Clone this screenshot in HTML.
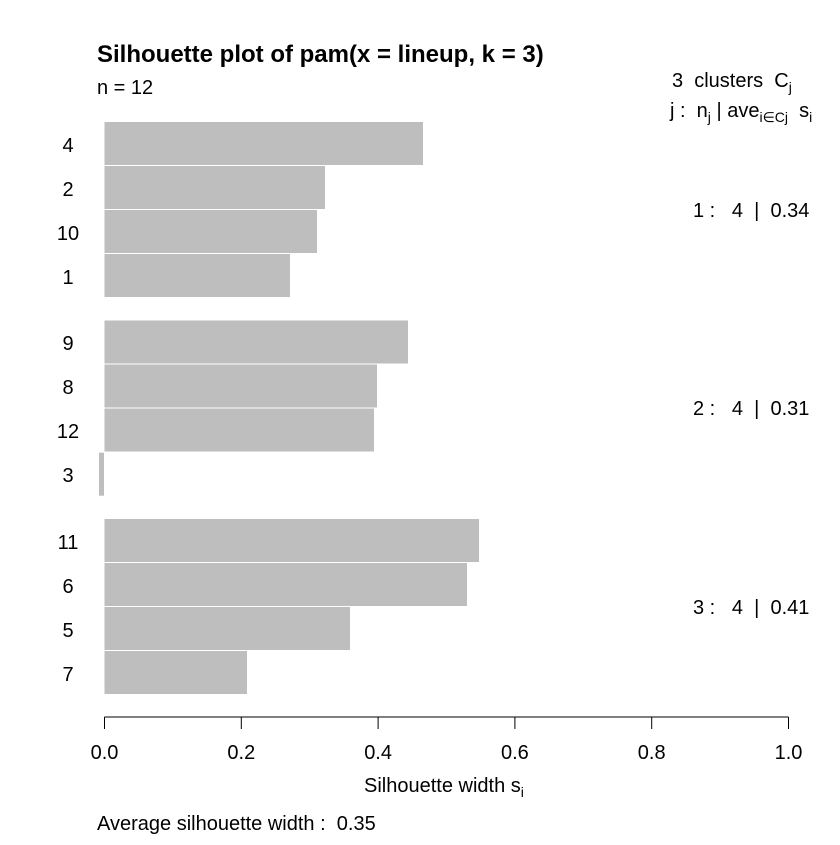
<!DOCTYPE html>
<html><head><style>body{margin:0;background:#fff} text{white-space:pre}</style></head><body>
<svg width="840" height="840" xmlns="http://www.w3.org/2000/svg" font-family="Liberation Sans, Arial, sans-serif" font-size="20" xml:space="preserve">
<rect width="840" height="840" fill="#fff"/>
<text x="97" y="62" font-weight="bold" font-size="24">Silhouette plot of pam(x = lineup, k = 3)</text>
<text x="97" y="94">n = 12</text>
<text x="672" y="87">3  clusters  C<tspan font-size="14" dy="5">j</tspan></text>
<text x="670" y="117">j :  n<tspan font-size="14" dy="5">j</tspan><tspan dy="-5"> | ave</tspan><tspan font-size="14" dy="5">i∈Cj</tspan><tspan dy="-5">  s</tspan><tspan font-size="14" dy="5">i</tspan></text>
<g fill="#bebebe">
<rect x="104.5" y="122" width="318.5" height="43"/>
<rect x="104.5" y="166" width="220.5" height="43"/>
<rect x="104.5" y="210" width="212.5" height="43"/>
<rect x="104.5" y="254" width="185.5" height="43"/>
<rect x="104.5" y="320.5" width="303.5" height="43"/>
<rect x="104.5" y="364.5" width="272.5" height="43"/>
<rect x="104.5" y="408.5" width="269.5" height="43"/>
<rect x="99" y="452.7" width="5" height="43"/>
<rect x="104.5" y="519" width="374.5" height="43"/>
<rect x="104.5" y="563" width="362.5" height="43"/>
<rect x="104.5" y="607" width="245.5" height="43"/>
<rect x="104.5" y="651" width="142.5" height="43"/>
</g>
<g text-anchor="middle">
<text x="68" y="152">4</text><text x="68" y="196">2</text><text x="68" y="240">10</text><text x="68" y="284">1</text>
<text x="68" y="350">9</text><text x="68" y="394">8</text><text x="68" y="438">12</text><text x="68" y="482">3</text>
<text x="68" y="549">11</text><text x="68" y="593">6</text><text x="68" y="637">5</text><text x="68" y="681">7</text>
</g>
<text x="693" y="217">1 :   4  |  0.34</text>
<text x="693" y="415">2 :   4  |  0.31</text>
<text x="693" y="614">3 :   4  |  0.41</text>
<g stroke="#000" stroke-width="1">
<line x1="104.5" y1="717" x2="788.5" y2="717"/>
<line x1="104.5" y1="717" x2="104.5" y2="729"/>
<line x1="241.3" y1="717" x2="241.3" y2="729"/>
<line x1="378.1" y1="717" x2="378.1" y2="729"/>
<line x1="514.9" y1="717" x2="514.9" y2="729"/>
<line x1="651.7" y1="717" x2="651.7" y2="729"/>
<line x1="788.5" y1="717" x2="788.5" y2="729"/>
</g>
<g text-anchor="middle">
<text x="104.5" y="759">0.0</text><text x="241.3" y="759">0.2</text><text x="378.1" y="759">0.4</text>
<text x="514.9" y="759">0.6</text><text x="651.7" y="759">0.8</text><text x="788.5" y="759">1.0</text>
</g>
<text x="364" y="792">Silhouette width s<tspan font-size="14" dy="5">i</tspan></text>
<text x="97" y="830">Average silhouette width :  0.35</text>
</svg>
</body></html>
